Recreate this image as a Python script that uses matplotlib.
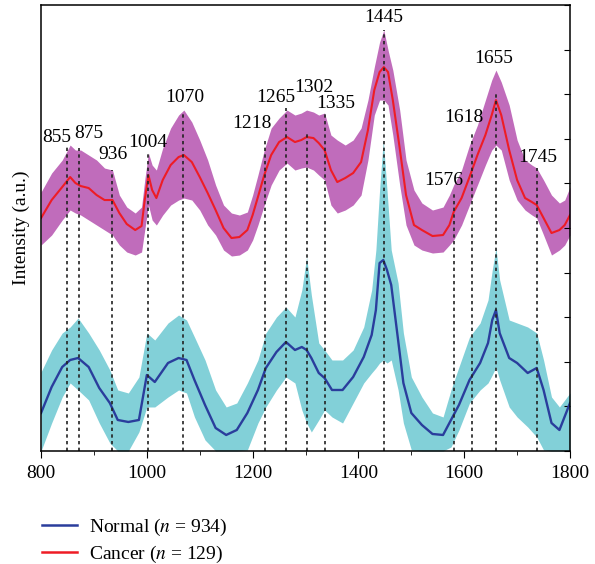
import numpy as np
import matplotlib
matplotlib.use("Agg")
import matplotlib.pyplot as plt
from matplotlib.lines import Line2D

plt.rcParams['font.family'] = ['Liberation Serif', 'DejaVu Serif']
plt.rcParams['mathtext.fontset'] = 'stix'

# Cancer spectrum: wavenumber, mean, upper/lower edge of the band (a.u.)
w_cancer = [800, 820, 840, 855, 865, 875, 890, 905, 920, 935, 948, 962, 978, 990, 996,
            1003, 1010, 1018, 1030, 1045, 1060, 1070, 1085, 1100, 1115, 1130, 1145, 1160,
            1175, 1190, 1200, 1210, 1222, 1235, 1250, 1265, 1280, 1292, 1302, 1315, 1325,
            1336, 1348, 1360, 1375, 1390, 1405, 1418, 1430, 1440, 1448, 1456, 1465, 1478,
            1490, 1505, 1520, 1540, 1560, 1572, 1580, 1595, 1610, 1625, 1640, 1652, 1660,
            1670, 1685, 1700, 1715, 1728, 1737, 1750, 1765, 1780, 1790, 1800]
cancer_mean = [233, 251, 264, 274, 268, 265, 263, 256, 251, 251, 238, 227, 221, 225, 251,
               276, 261, 253, 271, 286, 294, 296, 289, 274, 258, 241, 223, 213,
               214, 221, 236, 254, 276, 296, 309, 314, 309, 311, 314, 313, 308,
               301, 281, 269, 273, 278, 289, 321, 361, 379, 384, 379, 351, 303,
               256, 226, 221, 215, 216, 226, 239, 253, 274, 296, 316, 336, 351,
               336, 301, 271, 253, 249, 246, 233, 218, 221, 226, 236]
cancer_hi = [259, 278, 291, 306, 301, 301, 296, 291, 283, 281, 256, 244, 238, 244, 271,
             298, 286, 281, 303, 323, 336, 341, 329, 311, 291, 266, 246, 238,
             236, 239, 256, 276, 301, 323, 333, 341, 336, 338, 341, 339, 336,
             338, 316, 311, 306, 311, 323, 351, 384, 409, 421, 401, 381, 341,
             291, 261, 248, 241, 244, 256, 266, 281, 306, 326, 351, 371, 381,
             369, 346, 311, 291, 286, 283, 271, 256, 248, 251, 264]
cancer_lo = [206, 216, 231, 241, 238, 236, 231, 226, 221, 216, 206, 199, 196, 199, 221,
             246, 231, 226, 236, 246, 251, 253, 251, 241, 226, 216, 201, 195,
             196, 201, 211, 226, 246, 266, 281, 288, 281, 283, 284, 281, 276,
             271, 246, 238, 241, 246, 256, 291, 336, 351, 351, 346, 316, 266,
             226, 206, 201, 198, 199, 206, 211, 226, 246, 266, 286, 301, 306,
             301, 271, 251, 241, 236, 233, 216, 196, 201, 206, 216]

# Normal spectrum
w_normal = [800, 820, 840, 855, 870, 890, 910, 930, 945, 965, 985, 1000, 1015, 1040, 1060,
            1075, 1090, 1110, 1130, 1150, 1170, 1190, 1210, 1225, 1245, 1263, 1280, 1293,
            1302, 1311, 1325, 1336, 1350, 1370, 1390, 1410, 1425, 1433, 1440, 1447, 1454,
            1462, 1475, 1485, 1500, 1520, 1540, 1560, 1575, 1590, 1610, 1630, 1645, 1653,
            1660, 1667, 1685, 1700, 1720, 1737, 1750, 1765, 1780, 1800]
normal_mean = [38, 64, 84, 91, 93, 84, 63, 48, 31, 29, 31, 76, 69, 88, 93,
               91, 71, 46, 23, 16, 21, 38, 61, 83, 99, 109, 101, 104,
               101, 93, 78, 73, 61, 61, 74, 94, 116, 141, 188, 191, 181,
               166, 111, 68, 38, 26, 17, 16, 31, 46, 71, 88, 108, 131,
               141, 118, 93, 88, 78, 83, 61, 28, 21, 48]
normal_hi = [79, 101, 118, 124, 133, 118, 101, 81, 61, 58, 74, 118, 111, 128, 136,
             131, 114, 91, 61, 44, 48, 68, 91, 118, 134, 144, 134, 161,
             194, 156, 108, 101, 91, 91, 101, 124, 161, 201, 261, 311, 261,
             201, 168, 118, 74, 54, 38, 34, 61, 84, 114, 128, 151, 181,
             203, 171, 131, 128, 124, 118, 91, 54, 44, 58]
normal_lo = [0, 28, 54, 68, 61, 51, 28, 8, 0, 0, 19, 44, 44, 54, 61,
             58, 34, 11, 0, 0, 0, 1, 28, 44, 61, 74, 68, 41,
             28, 19, 31, 41, 34, 28, 48, 68, 78, 83, 88, 91, 88,
             91, 61, 28, 1, 0, 0, 0, 4, 21, 48, 61, 68, 76,
             84, 71, 44, 34, 24, 14, 1, 0, 0, 0]

# peak markers: line position, top of the dotted line, label text, label position
peak_pos = [849, 872, 934, 1002, 1069, 1224, 1263, 1302, 1336, 1448, 1581, 1614, 1661, 1737]
peak_top = [304, 303, 281, 298, 338, 311, 343, 318, 338, 421, 258, 318, 358, 283]
peak_labels = ['855', '875', '936', '1004', '1070', '1218', '1265', '1302', '1335',
               '1445', '1576', '1618', '1655', '1745']
label_x = [830, 891, 936, 1001, 1071, 1199, 1243, 1315, 1358, 1447, 1561, 1599, 1656, 1739]
label_y = [314, 318, 297, 309, 354, 328, 354, 364, 348, 434, 271, 334, 393, 294]

fig = plt.figure(figsize=(5.95, 5.64), dpi=100)
ax = fig.add_axes([0.069, 0.2004, 0.889, 0.7906])

ax.fill_between(w_normal, normal_lo, normal_hi, color='#82d0d8', lw=0)
ax.fill_between(w_cancer, cancer_lo, cancer_hi, color='#c06cbb', lw=0)
ax.plot(w_normal, normal_mean, color='#2a3d9c', lw=1.7)
ax.plot(w_cancer, cancer_mean, color='#ee1c25', lw=1.5)

for x, top in zip(peak_pos, peak_top):
    ax.plot([x, x], [0, top], color='#222222', lw=1.2, ls=(0, (2, 2)))
for t, x, y in zip(peak_labels, label_x, label_y):
    ax.text(x, y, t, ha='center', va='center', fontsize=14)

ax.set_xlim(800, 1800)
ax.set_ylim(0, 446)
ax.set_xticks([800, 1000, 1200, 1400, 1600, 1800])
ax.set_xticks([900, 1100, 1300, 1500, 1700], minor=True)
ax.tick_params(axis='x', which='major', direction='out', length=5, labelsize=14, pad=5)
ax.tick_params(axis='x', which='minor', direction='out', length=3)
ax.set_yticks(np.arange(0, 447, 44.6))
ax.tick_params(axis='y', which='both', left=False, right=True, direction='in',
               length=4, labelleft=False)
ax.set_ylabel('Intensity (a.u.)', fontsize=14, labelpad=8)
for s in ax.spines.values():
    s.set_linewidth(1.1)

handles = [Line2D([], [], color='#2a3d9c', lw=1.8), Line2D([], [], color='#ee1c25', lw=1.8)]
fig.legend(handles, ['Normal ($n$ = 934)', 'Cancer ($n$ = 129)'], loc='upper left',
           bbox_to_anchor=(0.058, 0.097), frameon=False, fontsize=14,
           handlelength=1.8, handletextpad=0.6, labelspacing=0.3, borderaxespad=0)

fig.savefig('out.png', dpi=100)
